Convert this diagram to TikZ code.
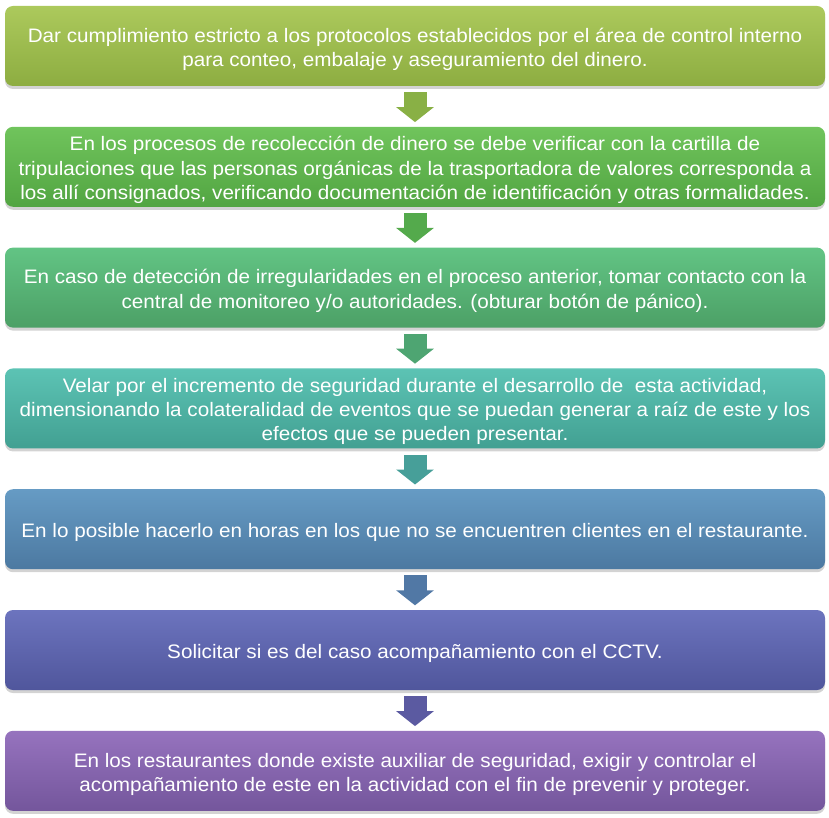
\documentclass[tikz,border=0pt]{standalone}
\usepackage{fontspec}
\setmainfont{Liberation Sans}[FakeStretch=1.06]
\usetikzlibrary{arrows.meta,shadows}

% colores de las cajas (arriba / abajo)
\definecolor{unoA}{RGB}{172,201,92}   \definecolor{unoB}{RGB}{141,173,65}
\definecolor{dosA}{RGB}{112,196,92}   \definecolor{dosB}{RGB}{82,165,66}
\definecolor{tresA}{RGB}{98,196,132}  \definecolor{tresB}{RGB}{76,160,102}
\definecolor{cuatroA}{RGB}{92,195,180}\definecolor{cuatroB}{RGB}{66,160,146}
\definecolor{cincoA}{RGB}{102,155,196}\definecolor{cincoB}{RGB}{76,121,161}
\definecolor{seisA}{RGB}{108,116,190} \definecolor{seisB}{RGB}{80,86,156}
\definecolor{sieteA}{RGB}{150,115,190}\definecolor{sieteB}{RGB}{116,86,156}

% puntal para la primera linea de cada caja
\newcommand{\tope}{\rule{0pt}{22.6pt}}

\begin{document}
\begin{tikzpicture}[x=1pt, y=-1pt,
  caja/.style={rounded corners=8pt, minimum width=820pt, minimum height=80pt,
    inner sep=0pt, align=center, text=white,
    font=\fontsize{19.5}{24.2}\selectfont,
    execute at end node={\rule[-6pt]{0pt}{6pt}},
    drop shadow={shadow xshift=0pt, shadow yshift=-3pt, opacity=0.35}},
  flecha/.style={line width=23pt, shorten <=6pt, shorten >=4.5pt,
    -{Triangle[width=37pt, length=15pt]}}]

\useasboundingbox (0,0) rectangle (829,818);

% las siete cajas
\node [caja, top color=unoA, bottom color=unoB] (b1) at (415, 46)
  {\tope Dar cumplimiento estricto a los protocolos establecidos por el área de control interno\\
   para conteo, embalaje y aseguramiento del dinero.};
\node [caja, top color=dosA, bottom color=dosB] (b2) at (415, 166.8)
  {\tope En los procesos de recolección de dinero se debe verificar con la cartilla de\\
   tripulaciones que las personas orgánicas de la trasportadora de valores corresponda a\\
   los allí consignados, verificando documentación de identificación y otras formalidades.};
\node [caja, top color=tresA, bottom color=tresB] (b3) at (415, 287.6)
  {\tope En caso de detección de irregularidades en el proceso anterior, tomar contacto con la\\
   central de monitoreo y/o autoridades. (obturar botón de pánico).};
\node [caja, top color=cuatroA, bottom color=cuatroB] (b4) at (415, 408.4)
  {\tope Velar por el incremento de seguridad durante el desarrollo de\ \ esta actividad,\\
   dimensionando la colateralidad de eventos que se puedan generar a raíz de este y los\\
   efectos que se pueden presentar.};
\node [caja, top color=cincoA, bottom color=cincoB] (b5) at (415, 529.2)
  {\tope En lo posible hacerlo en horas en los que no se encuentren clientes en el restaurante.};
\node [caja, top color=seisA, bottom color=seisB] (b6) at (415, 650)
  {\tope Solicitar si es del caso acompañamiento con el CCTV.};
\node [caja, top color=sieteA, bottom color=sieteB] (b7) at (415, 770.8)
  {\tope En los restaurantes donde existe auxiliar de seguridad, exigir y controlar el\\
   acompañamiento de este en la actividad con el fin de prevenir y proteger.};

% flechas entre cajas
\draw [flecha, color=unoB!85!dosA]    (b1) -- (b2);
\draw [flecha, color=dosB!85!tresA]   (b2) -- (b3);
\draw [flecha, color=tresB!85!cuatroA](b3) -- (b4);
\draw [flecha, color=cuatroB!85!cincoA](b4) -- (b5);
\draw [flecha, color=cincoB!85!seisA] (b5) -- (b6);
\draw [flecha, color=seisB!85!sieteA] (b6) -- (b7);

\end{tikzpicture}
\end{document}
